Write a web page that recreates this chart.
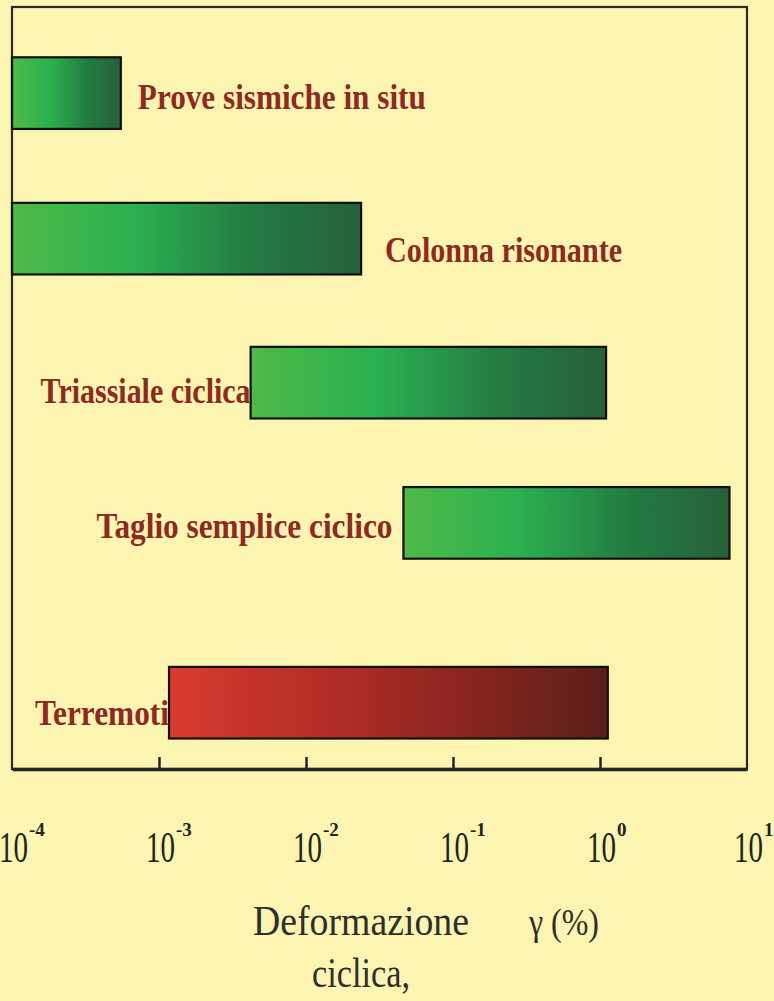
<!DOCTYPE html>
<html>
<head>
<meta charset="utf-8">
<script src="https://cdn.jsdelivr.net/npm/d3@7"></script>
<style>
  html, body { margin: 0; padding: 0; background: #fcf5b1; }
  svg { display: block; }
</style>
</head>
<body>
<div id="chart"></div>
<script>
// test names (Italian labels) and strain ranges, gamma in %
const tests = [
  "Prove sismiche in situ",
  "Colonna risonante",
  "Triassiale ciclica",
  "Taglio semplice ciclico",
  "Terremoti",
];
const strainMin = [1e-4, 1e-4, 0.0042, 0.046, 0.00117];
const strainMax = [0.00055, 0.0237, 1.1, 7.6, 1.13];
const barKind = ["lab", "lab", "lab", "lab", "quake"];
// row centre, in % of the plot height (rows are not evenly spaced)
const rowPos = [11.3, 30.4, 49.3, 67.7, 91.3];
const tickExp = [-4, -3, -2, -1, 0, 1];

const width = 774;
const height = 1001;
const plot = { left: 12, right: 747, top: 7, bottom: 769 };

// label layout: which side of the bar, gap, width the text is squeezed to
const labelSide = ["right", "right", "left", "left", "left"];
const labelGap = [17, 24, 0, 11, 0];
const labelWidth = [288, 237, 210, 296, 134];
const labelDy = [16, 23, 20, 15, 22];

const svg = d3
  .select("#chart")
  .append("svg")
  .attr("width", width)
  .attr("height", height);

svg
  .append("rect")
  .attr("width", width)
  .attr("height", height)
  .attr("fill", "#fcf5b1");

const x = d3
  .scaleLog()
  .domain([1e-4, 10])
  .range([plot.left, plot.right]);

const y = d3
  .scaleLinear()
  .domain([0, 100])
  .range([plot.top, plot.bottom]);

const barH = y(9.4) - y(0);

// gradients
const defs = svg.append("defs");
const green = defs
  .append("linearGradient")
  .attr("id", "grad_lab")
  .attr("x1", "0%")
  .attr("x2", "100%");
green.append("stop").attr("offset", "0%").attr("stop-color", "#4fb948");
green.append("stop").attr("offset", "35%").attr("stop-color", "#2bb14f");
green.append("stop").attr("offset", "70%").attr("stop-color", "#237a41");
green.append("stop").attr("offset", "100%").attr("stop-color", "#27603a");

const red = defs
  .append("linearGradient")
  .attr("id", "grad_quake")
  .attr("x1", "0%")
  .attr("x2", "100%");
red.append("stop").attr("offset", "0%").attr("stop-color", "#d93b2e");
red.append("stop").attr("offset", "45%").attr("stop-color", "#a92a24");
red.append("stop").attr("offset", "100%").attr("stop-color", "#5a1f16");

// frame
svg
  .append("rect")
  .attr("x", plot.left)
  .attr("y", plot.top)
  .attr("width", plot.right - plot.left)
  .attr("height", plot.bottom - plot.top)
  .attr("fill", "none")
  .attr("stroke", "#2b2b2b")
  .attr("stroke-width", 2.2);

// bars
svg
  .selectAll(".bar")
  .data(tests)
  .enter()
  .append("rect")
  .attr("class", "bar")
  .attr("x", (d, i) => x(strainMin[i]))
  .attr("y", (d, i) => y(rowPos[i]) - barH / 2)
  .attr("width", (d, i) => x(strainMax[i]) - x(strainMin[i]))
  .attr("height", barH)
  .attr("fill", (d, i) => `url(#grad_${barKind[i]})`)
  .attr("stroke", "#111")
  .attr("stroke-width", 2.2);

// labels
svg
  .selectAll(".label")
  .data(tests)
  .enter()
  .append("text")
  .attr("class", "label")
  .attr("x", (d, i) =>
    labelSide[i] == "right"
      ? x(strainMax[i]) + labelGap[i]
      : x(strainMin[i]) - labelGap[i]
  )
  .attr("y", (d, i) => y(rowPos[i]) + labelDy[i])
  .attr("text-anchor", (d, i) => (labelSide[i] == "right" ? "start" : "end"))
  .attr("textLength", (d, i) => labelWidth[i])
  .attr("lengthAdjust", "spacingAndGlyphs")
  .style("font-family", "'Liberation Serif', 'DejaVu Serif', serif")
  .style("font-weight", "bold")
  .style("font-size", "36px")
  .style("fill", "#8e2a22")
  .text((d) => d);

// inward ticks on the bottom axis
const xAxis = d3
  .axisBottom(x)
  .tickValues(tickExp.slice(1, -1).map((e) => Math.pow(10, e)))
  .tickSizeInner(-12)
  .tickSizeOuter(0)
  .tickFormat("");

const gx = svg
  .append("g")
  .attr("transform", `translate(0, ${plot.bottom})`)
  .call(xAxis);
gx.select(".domain").attr("stroke", "#222").attr("stroke-width", 3.5);
gx.selectAll(".tick line").attr("stroke", "#222").attr("stroke-width", 2.5);

// tick labels 10^n : base (condensed) and exponent as separate texts
const tickFont = "'Liberation Serif', 'DejaVu Serif', serif";
svg
  .selectAll(".tickbase")
  .data(tickExp)
  .enter()
  .append("text")
  .attr("class", "tickbase")
  .attr(
    "transform",
    (d) => `translate(${x(Math.pow(10, d)) - 13}, 862) scale(0.66, 1)`
  )
  .style("font-family", tickFont)
  .style("font-size", "44px")
  .style("fill", "#222")
  .text("10");

svg
  .selectAll(".tickexp")
  .data(tickExp)
  .enter()
  .append("text")
  .attr("class", "tickexp")
  .attr("x", (d) => x(Math.pow(10, d)) + 17)
  .attr("y", 836)
  .style("font-family", tickFont)
  .style("font-size", "19px")
  .style("font-weight", "bold")
  .style("fill", "#222")
  .text((d) => (d < 0 ? "-" + Math.abs(d) : d));

// axis title
const titleFont = "'Liberation Serif', 'DejaVu Serif', serif";
svg
  .append("text")
  .attr("x", 253)
  .attr("y", 935)
  .attr("textLength", 216)
  .attr("lengthAdjust", "spacingAndGlyphs")
  .style("font-family", titleFont)
  .style("font-size", "43px")
  .style("fill", "#2e2e2e")
  .text("Deformazione");
svg
  .append("text")
  .attr("x", 529)
  .attr("y", 935)
  .attr("textLength", 70)
  .attr("lengthAdjust", "spacingAndGlyphs")
  .style("font-family", titleFont)
  .style("font-size", "38px")
  .style("fill", "#2e2e2e")
  .text("γ (%)");
svg
  .append("text")
  .attr("x", 312)
  .attr("y", 987)
  .attr("textLength", 98)
  .attr("lengthAdjust", "spacingAndGlyphs")
  .style("font-family", titleFont)
  .style("font-size", "43px")
  .style("fill", "#2e2e2e")
  .text("ciclica,");
</script>
</body>
</html>
